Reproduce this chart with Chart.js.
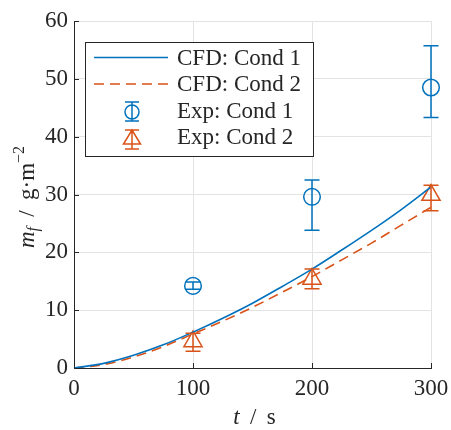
<!DOCTYPE html>
<html>
<head>
<meta charset="utf-8">
<script src="https://cdn.jsdelivr.net/npm/chart.js@4.4.1/dist/chart.umd.min.js"></script>
<style>
  html, body { margin: 0; padding: 0; background: #fff; }
  canvas { display: block; }
</style>
</head>
<body>
<canvas id="chart" width="451" height="430"></canvas>
<script>
// CFD results, t in s and m_f in g/m^2
const cfdTime = [0, 25, 50, 75, 100, 125, 150, 175, 200, 225, 250, 275, 300];
const cfdCond1 = [0, 0.8, 2.2, 4.0, 6.2, 8.6, 11.2, 14.1, 17.1, 20.4, 23.8, 27.4, 31.3];
const cfdCond2 = [0, 0.6, 1.9, 3.7, 5.9, 8.1, 10.5, 13.1, 15.8, 18.7, 21.6, 24.7, 27.8];

// experiments with error bar limits
const expTime = [100, 200, 300];
const expCond1 = [14.2, 29.6, 48.5];
const expCond1Low = [13.6, 23.8, 43.3];
const expCond1High = [14.85, 32.5, 55.7];
const expCond2 = [4.6, 15.4, 29.9];
const expCond2Low = [2.9, 13.7, 27.2];
const expCond2High = [6.0, 17.1, 31.6];

const xTicks = [0, 100, 200, 300];
const yTicks = [0, 10, 20, 30, 40, 50, 60];

const BLUE = '#0072BD';
const ORANGE = '#D95319';
const INK = '#262626';
const SERIF = '"Liberation Serif", "DejaVu Serif", serif';
const FS = 23;

function pairs(xs, ys) {
  return xs.map((x, i) => ({ x: x, y: ys[i] }));
}

function drawRuns(ctx, runs, x, y) {
  let cx = x;
  runs.forEach(r => {
    ctx.font = r.font;
    ctx.fillText(r.text, cx, y + (r.dy || 0));
    cx += ctx.measureText(r.text).width;
  });
}

function runsWidth(ctx, runs) {
  let w = 0;
  runs.forEach(r => {
    ctx.font = r.font;
    w += ctx.measureText(r.text).width;
  });
  return w;
}

// vertical bars with caps for the experimental points
const errorBars = {
  id: 'errorBars',
  afterDatasetsDraw(chart) {
    const ctx = chart.ctx;
    const xs = chart.scales.x, ys = chart.scales.y;
    const sets = [
      { low: expCond1Low, high: expCond1High, color: BLUE },
      { low: expCond2Low, high: expCond2High, color: ORANGE }
    ];
    ctx.save();
    ctx.lineWidth = 1.5;
    sets.forEach(s => {
      ctx.strokeStyle = s.color;
      expTime.forEach((t, i) => {
        const px = xs.getPixelForValue(t);
        const y1 = ys.getPixelForValue(s.low[i]);
        const y2 = ys.getPixelForValue(s.high[i]);
        ctx.beginPath();
        ctx.moveTo(px, y1); ctx.lineTo(px, y2);
        ctx.moveTo(px - 7.5, y1); ctx.lineTo(px + 7.5, y1);
        ctx.moveTo(px - 7.5, y2); ctx.lineTo(px + 7.5, y2);
        ctx.stroke();
      });
    });
    ctx.restore();
  }
};

// inward tick marks, axis titles and the legend box
const decorations = {
  id: 'decorations',
  afterDraw(chart) {
    const ctx = chart.ctx;
    const area = chart.chartArea;
    const xs = chart.scales.x, ys = chart.scales.y;
    ctx.save();

    ctx.strokeStyle = INK;
    ctx.lineWidth = 1;
    ctx.beginPath();
    yTicks.forEach(v => {
      const py = Math.round(ys.getPixelForValue(v)) + 0.5;
      ctx.moveTo(area.left, py); ctx.lineTo(area.left + 5, py);
    });
    xTicks.forEach(v => {
      const px = Math.round(xs.getPixelForValue(v)) + 0.5;
      ctx.moveTo(px, area.bottom); ctx.lineTo(px, area.bottom - 5);
    });
    ctx.stroke();

    ctx.fillStyle = INK;
    ctx.textBaseline = 'alphabetic';
    ctx.textAlign = 'left';

    const xTitle = [
      { text: 't', font: 'italic ' + FS + 'px ' + SERIF },
      { text: ' \u2009/ \u2009s', font: FS + 'px ' + SERIF }
    ];
    const xw = runsWidth(ctx, xTitle);
    drawRuns(ctx, xTitle, 254.5 - xw / 2, 424);

    const yTitle = [
      { text: 'm', font: 'italic ' + FS + 'px ' + SERIF },
      { text: 'f', font: 'italic 16px ' + SERIF, dy: 4 },
      { text: ' \u2009/ \u2009g\u00b7m', font: FS + 'px ' + SERIF },
      { text: '\u22122', font: '16px ' + SERIF, dy: -10 }
    ];
    const yw = runsWidth(ctx, yTitle);
    ctx.save();
    ctx.translate(34, 197);
    ctx.rotate(-Math.PI / 2);
    drawRuns(ctx, yTitle, -yw / 2, 0);
    ctx.restore();

    // legend
    const lx = 85.5, ly = 42.5, lw = 228, lh = 114;
    ctx.fillStyle = '#fff';
    ctx.fillRect(lx, ly, lw, lh);
    ctx.strokeStyle = INK;
    ctx.lineWidth = 1;
    ctx.strokeRect(lx, ly, lw, lh);

    const rows = [57.5, 84, 111, 137];
    const ds = chart.data.datasets;
    ctx.lineWidth = 1.6;

    ctx.strokeStyle = BLUE;
    ctx.beginPath();
    ctx.moveTo(94, rows[0]); ctx.lineTo(168, rows[0]);
    ctx.stroke();

    ctx.strokeStyle = ORANGE;
    ctx.setLineDash([10, 6]);
    ctx.beginPath();
    ctx.moveTo(94, rows[1]); ctx.lineTo(168, rows[1]);
    ctx.stroke();
    ctx.setLineDash([]);

    const mx = 132;
    ctx.lineWidth = 1.5;
    ctx.strokeStyle = BLUE;
    ctx.beginPath();
    ctx.arc(mx, rows[2] + 1, 7, 0, Math.PI * 2);
    ctx.moveTo(mx, rows[2] - 9); ctx.lineTo(mx, rows[2] + 10);
    ctx.moveTo(mx - 7, rows[2] - 9); ctx.lineTo(mx + 7, rows[2] - 9);
    ctx.moveTo(mx - 7, rows[2] + 10); ctx.lineTo(mx + 7, rows[2] + 10);
    ctx.stroke();

    ctx.strokeStyle = ORANGE;
    const ty = rows[3] + 2;
    ctx.beginPath();
    ctx.moveTo(mx, ty - 9); ctx.lineTo(mx + 8.5, ty + 5); ctx.lineTo(mx - 8.5, ty + 5); ctx.closePath();
    ctx.moveTo(mx, ty - 9); ctx.lineTo(mx, ty + 10);
    ctx.moveTo(mx - 7, ty - 9); ctx.lineTo(mx + 7, ty - 9);
    ctx.moveTo(mx - 7, ty + 10); ctx.lineTo(mx + 7, ty + 10);
    ctx.stroke();

    ctx.fillStyle = INK;
    ctx.font = FS + 'px ' + SERIF;
    ctx.textBaseline = 'middle';
    ds.forEach((d, i) => ctx.fillText(d.label, 177, rows[i] + 1));

    ctx.restore();
  }
};

new Chart(document.getElementById('chart'), {
  type: 'line',
  data: {
    datasets: [
      {
        label: 'CFD: Cond 1',
        data: pairs(cfdTime, cfdCond1),
        borderColor: BLUE,
        borderWidth: 1.6,
        pointRadius: 0,
        cubicInterpolationMode: 'monotone',
        fill: false
      },
      {
        label: 'CFD: Cond 2',
        data: pairs(cfdTime, cfdCond2),
        borderColor: ORANGE,
        borderWidth: 1.6,
        borderDash: [10, 6],
        pointRadius: 0,
        cubicInterpolationMode: 'monotone',
        fill: false
      },
      {
        label: 'Exp: Cond 1',
        data: pairs(expTime, expCond1),
        showLine: false,
        clip: false,
        pointStyle: 'circle',
        pointRadius: 8.3,
        pointBorderWidth: 1.5,
        pointBorderColor: BLUE,
        pointBackgroundColor: 'rgba(0,0,0,0)',
        borderColor: BLUE
      },
      {
        label: 'Exp: Cond 2',
        data: pairs(expTime, expCond2),
        showLine: false,
        clip: false,
        pointStyle: 'triangle',
        pointRadius: 10.5,
        pointBorderWidth: 1.5,
        pointBorderColor: ORANGE,
        pointBackgroundColor: 'rgba(0,0,0,0)',
        borderColor: ORANGE
      }
    ]
  },
  options: {
    responsive: false,
    animation: false,
    layout: { padding: { top: 21, right: 20, left: 0, bottom: 0 } },
    plugins: {
      legend: { display: false },
      tooltip: { enabled: false }
    },
    scales: {
      x: {
        type: 'linear',
        min: 0,
        max: 300,
        afterBuildTicks: s => { s.ticks = xTicks.map(v => ({ value: v })); },
        afterFit: s => { s.height = 62; s.paddingLeft = 0; s.paddingRight = 0; },
        grid: { color: '#e3e3e3', drawTicks: false },
        border: { color: INK, width: 1 },
        ticks: { padding: 7, color: INK, maxRotation: 0, font: { family: SERIF, size: FS } }
      },
      y: {
        min: 0,
        max: 60,
        afterBuildTicks: s => { s.ticks = yTicks.map(v => ({ value: v })); },
        afterFit: s => { s.width = 74; s.paddingTop = 0; s.paddingBottom = 0; },
        grid: { color: '#e3e3e3', drawTicks: false },
        border: { color: INK, width: 1 },
        ticks: { padding: 6, color: INK, font: { family: SERIF, size: FS } }
      }
    }
  },
  plugins: [errorBars, decorations]
});
</script>
</body>
</html>
